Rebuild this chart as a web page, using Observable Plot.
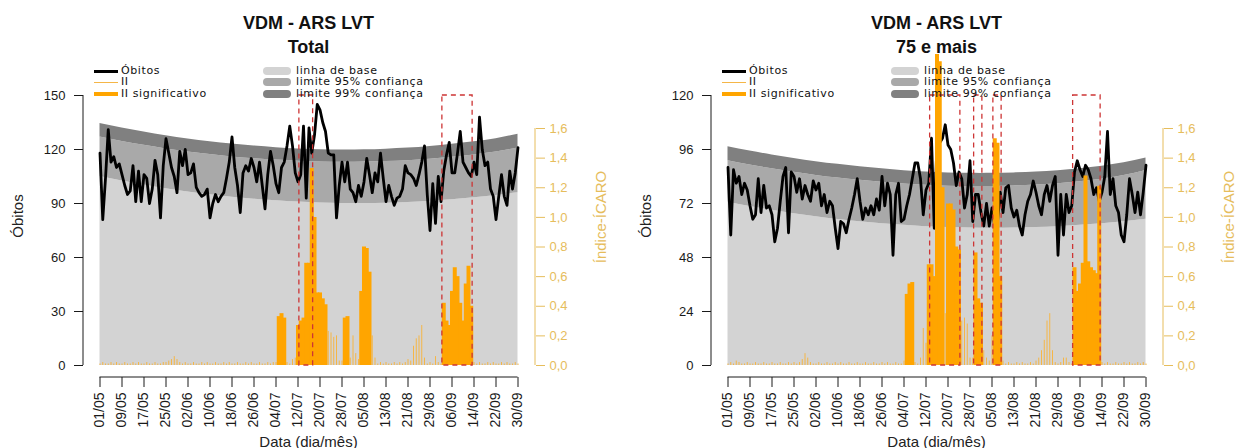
<!DOCTYPE html>
<html><head><meta charset="utf-8">
<script src="https://cdn.jsdelivr.net/npm/d3@7"></script>
<script src="https://cdn.jsdelivr.net/npm/@observablehq/plot@0.6"></script>
<style>
html,body{margin:0;padding:0;background:#fff}
body{width:1236px;height:448px;overflow:hidden;position:relative;font-family:"Liberation Sans",Arial,sans-serif}
.panel{position:absolute;top:0;height:448px}
.panel svg{position:absolute;left:0;top:0;overflow:visible}
.t{position:absolute;white-space:nowrap;line-height:1}
.leg{position:absolute;white-space:nowrap;font-family:"DejaVu Sans",sans-serif;font-size:11px;letter-spacing:0.6px;color:#111;line-height:1}
.sw{position:absolute}
</style></head><body>
<script>
// ---------- data ----------
const tickLabels = ["01/05","09/05","17/05","25/05","02/06","10/06","18/06","26/06","04/07","12/07","20/07","28/07","05/08","13/08","21/08","29/08","06/09","14/09","22/09","30/09"];

// Total
const obitosTotal = [
118,81,104,131,113,116,110,112,106,100,
95,97,111,91,108,91,106,104,90,98,
114,106,82,111,126,118,110,105,96,119,
111,120,106,107,112,99,96,94,95,98,
82,90,95,91,94,96,104,113,127,110,
100,85,107,111,108,115,110,102,113,100,
87,106,119,111,101,96,110,113,122,133,
122,107,102,106,133,93,132,118,128,145,
142,135,130,118,117,117,82,100,113,102,
113,98,96,91,100,94,102,115,106,96,
107,102,118,104,91,100,94,89,93,94,
98,111,107,106,104,100,106,113,122,95,
75,101,79,105,91,108,117,124,107,107,
118,130,113,110,107,105,113,106,138,120,
111,113,98,94,81,94,106,94,89,108,
98,107,121];
const iiTotal = [
.01,.02,.01,.01,.02,.01,.02,.01,.01,.02,
.01,.01,.02,.01,.02,.01,.01,.02,.01,.01,
.02,.01,.01,.02,.02,.03,.04,.06,.04,.02,
.01,.02,.01,.01,.02,.01,.01,.02,.01,.02,
.01,.01,.02,.01,.01,.02,.01,.02,.01,.01,
.02,.01,.01,.02,.01,.02,.01,.01,.02,.01,
.01,.02,.01,.02,.02,.33,.35,.32,.02,.01,
.04,.05,.27,.30,.32,.69,.69,1.33,1.00,.49,
.49,.45,.41,.23,.22,.19,.20,.03,.03,.32,
.33,.05,.20,.08,.04,.50,.80,.79,.63,.20,
.05,.01,.02,.01,.02,.01,.01,.02,.01,.02,
.01,.02,.04,.03,.13,.18,.20,.27,.05,.01,
.02,.01,.06,.02,.01,.42,.30,.27,.50,.66,
.60,.42,.30,.55,.67,.40,.02,.01,.02,.01,
.01,.02,.01,.02,.01,.01,.02,.01,.02,.01,
.01,.02,.01];
const sigTotal = [["05/07","07/07"],["12/07","22/07"],["29/07","30/07"],["04/08","07/08"],["03/09","13/09"]];
const alertTotal = [["13/07","17/07"],["03/09","13/09"]];
const baseTotal  = [105,102.5,100.3,98.2,96.4,94.9,93.5,92.4,91.5,90.8,90.3,90.0,90.0,90.2,90.6,91.3,92.1,93.2,94.5,96.0];
const lim95Total = [127,124.5,122.3,120.3,118.6,117.2,115.9,114.9,114.1,113.5,113.1,112.9,113.0,113.3,113.8,114.6,115.7,117.0,118.6,120.8];
const lim99Total = [134.5,132,129.7,127.6,125.8,124.3,123.0,121.9,121.0,120.3,119.9,119.7,119.8,120.2,120.8,121.7,122.9,124.3,126.0,128.5];

// 75 e mais
const obitos75 = [
88,58,87,81,84,76,81,78,71,65,
67,83,68,80,70,71,67,55,61,73,
84,88,59,86,84,77,83,74,80,76,
73,82,78,81,71,76,68,73,71,61,
52,64,63,59,65,70,76,83,73,65,
70,67,71,67,74,69,84,71,81,76,
49,76,81,64,65,71,76,83,90,90,
83,67,78,81,101,61,100,99,101,107,
98,96,90,80,86,83,70,76,91,64,
76,76,68,62,72,62,70,62,64,77,
68,79,80,70,66,69,62,58,67,73,
76,82,77,71,67,76,80,73,80,84,
49,76,58,76,68,71,86,91,87,84,
89,87,83,76,79,73,77,84,104,76,
83,71,68,58,55,67,83,76,68,77,
67,77,89];
const ii75 = [
.01,.02,.01,.03,.02,.01,.01,.02,.01,.01,
.02,.01,.01,.02,.01,.01,.02,.01,.01,.02,
.01,.01,.02,.01,.02,.01,.02,.04,.08,.05,
.02,.01,.01,.02,.01,.01,.02,.01,.01,.02,
.01,.02,.01,.01,.02,.01,.01,.02,.01,.01,
.02,.01,.01,.02,.01,.01,.02,.01,.02,.01,
.01,.02,.01,.01,.03,.48,.55,.56,.02,.01,
.05,.25,.15,.68,.68,.60,2.10,2.05,1.20,.35,
1.09,1.09,1.05,.80,.78,.30,.32,.28,.05,.05,
.76,.45,.42,.10,.05,.03,.20,1.53,1.50,.60,
.03,.01,.02,.01,.01,.02,.01,.02,.01,.01,
.02,.01,.03,.05,.10,.17,.30,.35,.10,.02,
.01,.02,.05,.05,.02,.01,.66,.50,.55,.69,
1.28,.70,.66,.64,.62,1.21,.02,.01,.02,.01,
.01,.02,.01,.01,.02,.01,.02,.01,.01,.02,
.01,.02,.01];
const sig75 = [["05/07","07/07"],["13/07","18/07"],["20/07","24/07"],["30/07","01/08"],["06/08","08/08"],["04/09","13/09"]];
const alert75 = [["14/07","24/07"],["30/07","01/08"],["06/08","08/08"],["04/09","13/09"]];
const base75  = [72.6,70.7,69.0,67.5,66.1,64.9,63.9,63.0,62.3,61.7,61.3,61.1,61.0,61.1,61.3,61.7,62.3,63.0,63.9,65.0];
const lim95_75 = [91.0,89.1,87.4,85.9,84.5,83.3,82.3,81.4,80.7,80.1,79.7,79.6,79.6,79.8,80.2,80.8,81.7,82.8,84.4,86.7];
const lim99_75 = [97.2,95.3,93.6,92.0,90.6,89.4,88.3,87.4,86.6,86.0,85.6,85.4,85.4,85.6,86.0,86.6,87.5,88.6,90.1,92.2];

const iiTicks = [0,0.2,0.4,0.6,0.8,1.0,1.2,1.4,1.6];

// ---------- layout ----------
const W = 608, H = 448, ML = 83, MR = W - 535, MB = 71;
const FONT = '"Liberation Sans", Arial, sans-serif';
const GOLD = "#E6BD5C";
const year = 2015;
const parseDM = s => { const [d, m] = s.split("/").map(Number); return new Date(Date.UTC(year, m - 1, d)); };
const tickDates = tickLabels.map(parseDM);
const days = d3.utcDay.range(tickDates[0], d3.utcDay.offset(tickDates[tickDates.length - 1], 1));
const fmt = d3.utcFormat("%d/%m");

function text(parent, str, o) {
  const el = document.createElement("div");
  el.className = "t";
  el.textContent = str;
  el.style.left = o.x + "px"; el.style.top = o.y + "px";
  el.style.fontSize = (o.size || 13) + "px";
  if (o.bold) el.style.fontWeight = "bold";
  el.style.color = o.color || "#111";
  el.style.transform = "translate(-50%,-50%)" + (o.rotate ? " rotate(" + o.rotate + "deg)" : "");
  parent.appendChild(el);
}
function line(svg, x1, y1, x2, y2, color) {
  d3.select(svg).append("line").attr("x1", x1).attr("y1", y1).attr("x2", x2).attr("y2", y2)
    .attr("stroke", color).attr("stroke-width", 1);
}

function makePanel(p) {
  const div = document.createElement("div");
  div.className = "panel";
  div.style.left = p.left + "px";
  div.style.width = W + "px";
  document.body.appendChild(div);

  const xs = {type: "utc", domain: [tickDates[0], tickDates[tickDates.length - 1]], insetLeft: 16.5, insetRight: 17.5};
  const style = {background: "none", fontFamily: FONT, fontSize: "13px", color: "#1a1a1a", overflow: "visible"};
  const deaths = days.map((date, i) => ({date, v: p.obitos[i]}));
  const bands = tickDates.map((date, i) => ({date, base: p.base[i], l95: p.l95[i], l99: p.l99[i]}));
  const sr = p.sig.map(([a, b]) => [parseDM(a), parseDM(b)]);
  const ii = days.map((date, i) => ({date, v: p.ii[i], sig: sr.some(([a, b]) => date >= a && date <= b)}));
  const alerts = p.alerts.map(([a, b]) => ({a: d3.utcHour.offset(parseDM(a), -12), b: d3.utcHour.offset(parseDM(b), 12)}));

  const A = Plot.plot({
    width: W, height: H, marginLeft: ML, marginRight: MR, marginTop: 95, marginBottom: MB,
    x: xs, y: {domain: [0, p.ymax], insetBottom: 12}, style,
    marks: [
      Plot.areaY(bands, {x: "date", y1: 0, y2: "base", fill: "#d3d3d3", curve: "natural"}),
      Plot.areaY(bands, {x: "date", y1: "base", y2: "l95", fill: "#a9a9a9", curve: "natural"}),
      Plot.areaY(bands, {x: "date", y1: "l95", y2: "l99", fill: "#808080", curve: "natural"}),
      Plot.line(deaths, {x: "date", y: "v", stroke: "#000", strokeWidth: 2.8}),
      Plot.axisY({anchor: "left", ticks: p.yTicks, tickSize: 9, tickPadding: 9, label: null}),
      Plot.axisX({anchor: "bottom", ticks: tickDates, tickFormat: fmt, tickRotate: -90, tickSize: 10, tickPadding: 5, fontSize: 14, label: null})
    ]
  });
  div.appendChild(A);
  const ax = A.scale("x"), ay = A.scale("y");
  line(A, ax.apply(tickDates[0]), H - MB, ax.apply(tickDates[tickDates.length - 1]), H - MB, "#1a1a1a");
  line(A, ML, ay.apply(0), ML, ay.apply(p.ymax), "#1a1a1a");

  const B = Plot.plot({
    width: W, height: H, marginLeft: ML, marginRight: MR, marginTop: 128, marginBottom: MB,
    x: {...xs, axis: null}, y: {domain: [0, 1.6], insetBottom: 12},
    style: {...style, color: GOLD},
    marks: [
      Plot.ruleX(ii.filter(d => !d.sig), {x: "date", y1: 0, y2: "v", stroke: "#F5B647", strokeWidth: 1}),
      Plot.ruleX(ii.filter(d => d.sig), {x: "date", y1: 0, y2: "v", stroke: "#FFA500", strokeWidth: 4}),
      Plot.axisY({anchor: "right", ticks: iiTicks, tickFormat: v => v.toFixed(1).replace(".", ","), tickSize: 9, tickPadding: 5, label: null})
    ]
  });
  div.appendChild(B);
  const by = B.scale("y");
  line(B, W - MR, by.apply(0), W - MR, by.apply(1.6), GOLD);

  const C = Plot.plot({
    width: W, height: H, marginLeft: ML, marginRight: MR, marginTop: 95, marginBottom: MB,
    x: {...xs, axis: null}, y: {domain: [0, p.ymax], insetBottom: 12, axis: null}, style,
    marks: [
      Plot.rect(alerts, {x1: "a", x2: "b", y1: 0, y2: p.ymax, fill: "none", stroke: "#CD3535", strokeWidth: 1.3, strokeDasharray: "5,4"})
    ]
  });
  div.appendChild(C);

  // titles and axis labels
  text(div, "VDM - ARS LVT", {x: 308.5, y: 23, size: 18, bold: true});
  text(div, p.title, {x: 308.5, y: 47, size: 18, bold: true});
  text(div, "Óbitos", {x: 17, y: 216, size: 15, rotate: -90, color: "#222"});
  text(div, "Índice-ÍCARO", {x: 600, y: 217, size: 15, rotate: -90, color: GOLD});
  text(div, "Data (dia/mês)", {x: 308.5, y: 441, size: 15, color: "#222"});

  // legend
  const rows = [71, 82, 94];
  const col1 = [["Óbitos", "#000", 3], ["II", "#F5B647", 1], ["II significativo", "#FFA500", 4]];
  const col2 = [["linha de base", "#d3d3d3"], ["limite 95% confiança", "#a9a9a9"], ["limite 99% confiança", "#808080"]];
  col1.forEach(([lab, c, h], i) => {
    const s = document.createElement("div"); s.className = "sw";
    s.style.left = "94px"; s.style.width = "24px"; s.style.height = h + "px";
    s.style.top = (rows[i] - h / 2) + "px"; s.style.background = c;
    div.appendChild(s);
    const t = document.createElement("div"); t.className = "leg"; t.textContent = lab;
    t.style.left = "121px"; t.style.top = (rows[i] - 6) + "px"; div.appendChild(t);
  });
  col2.forEach(([lab, c], i) => {
    const s = document.createElement("div"); s.className = "sw";
    s.style.left = "263px"; s.style.width = "28px"; s.style.height = "8px"; s.style.borderRadius = "4px";
    s.style.top = (rows[i] - 4) + "px"; s.style.background = c;
    div.appendChild(s);
    const t = document.createElement("div"); t.className = "leg"; t.textContent = lab;
    t.style.left = "296px"; t.style.top = (rows[i] - 6) + "px"; div.appendChild(t);
  });
}

makePanel({left: 0, title: "Total", ymax: 150, yTicks: [0, 30, 60, 90, 120, 150],
  obitos: obitosTotal, ii: iiTotal, sig: sigTotal, alerts: alertTotal, base: baseTotal, l95: lim95Total, l99: lim99Total});
makePanel({left: 628, title: "75 e mais", ymax: 120, yTicks: [0, 24, 48, 72, 96, 120],
  obitos: obitos75, ii: ii75, sig: sig75, alerts: alert75, base: base75, l95: lim95_75, l99: lim99_75});
</script>
</body></html>
